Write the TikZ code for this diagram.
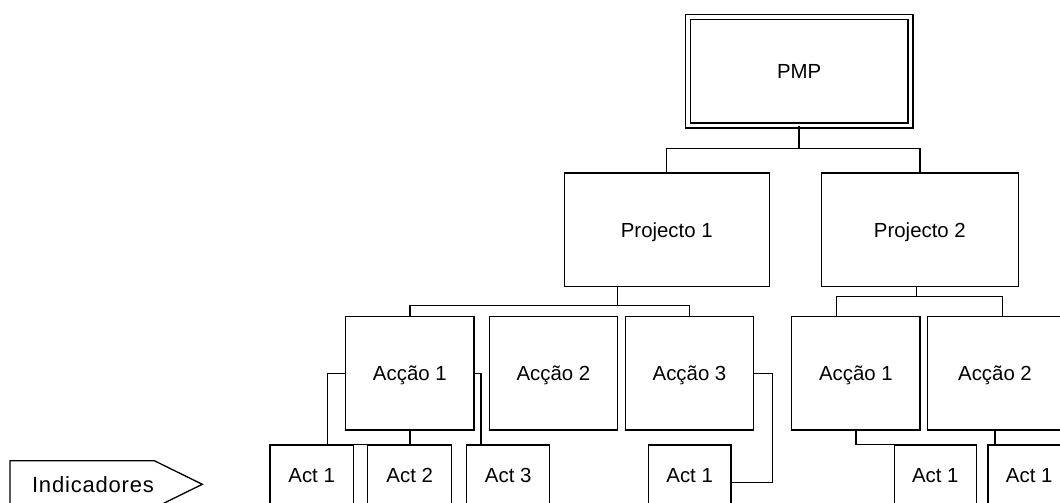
\documentclass[tikz,border=0pt]{standalone}
\usepackage{fontspec}
\setmainfont{Liberation Sans}
\newfontfamily\indfont{Liberation Sans}[LetterSpace=3.7]
\begin{document}
\begin{tikzpicture}[x=1pt,y=-1pt,line width=1.3pt,
    box/.style={draw,rectangle,inner sep=0pt,text height=14.7pt,text depth=0pt,
        font=\fontsize{20.4}{24}\selectfont},
    pmpbox/.style={box,double,double distance=3.7pt,minimum width=222.5pt,minimum height=108.8pt},
    projbox/.style={box,minimum width=#1,minimum height=113.7pt},
    accbox/.style={box,minimum width=#1,minimum height=113.3pt},
    actbox/.style={box,minimum width=#1,minimum height=60pt}]
    \useasboundingbox (0,0) rectangle (1060,503);
    \clip (0,0) rectangle (1060,503);

    \node[pmpbox] (pmp) at (799.1,71.2) {PMP};
    \node[projbox=205pt] (p1) at (666.8,229.85) {Projecto 1};
    \node[projbox=197pt] (p2) at (919.9,229.85) {Projecto 2};

    \node[accbox=128.3pt] (a11) at (409.85,373.35) {Acção 1};
    \node[accbox=128.5pt] (a12) at (553.4,373.35) {Acção 2};
    \node[accbox=127.6pt] (a13) at (689.5,373.35) {Acção 3};
    \node[accbox=128.3pt] (a21) at (855.85,373.35) {Acção 1};
    \node[accbox=134.6pt] (a22) at (995,373.35) {Acção 2};

    \node[actbox=83.3pt] (t111) at (311.65,475) {Act 1};
    \node[actbox=84pt] (t112) at (409.7,475) {Act 2};
    \node[actbox=83pt] (t113) at (508.2,475) {Act 3};
    \node[actbox=82.7pt] (t131) at (689.65,475) {Act 1};
    \node[actbox=82pt] (t211) at (935.3,475) {Act 1};
    \node[actbox=82.4pt] (t221) at (1029.2,475) {Act 1};

    % PMP -> projectos
    \draw (pmp.south) -- ++(0,22.3) coordinate (pj);
    \draw (p1.north) |- (pj) -| (p2.north);
    % projecto 1 -> accoes
    \draw ([xshift=-49.1pt]p1.south) -- ++(0,18.3) coordinate (p1j);
    \draw (a11.north) |- (p1j) -| (a13.north);
    % projecto 2 -> accoes
    \draw ([xshift=-3.2pt]p2.south) -- ++(0,9.3) coordinate (p2j);
    \draw ([xshift=-19.2pt]a21.north) |- (p2j) -| ([xshift=7.5pt]a22.north);

    % accoes -> actividades
    \draw (a11.west) -| ([xshift=16pt]t111.north);
    \draw (a11.south) |- ([xshift=-3.3pt]t111.north);
    \draw (a11.east) -| ([xshift=-27.2pt]t113.north);
    \draw (a13.east) -- ++(18.4,0) |- ([yshift=-7.3pt]t131.east);
    \draw (a21.south) |- ([xshift=-15.3pt]t211.north);
    \draw (a22.south) -- (a22.south |- t221.north);

    % indicadores
    \draw (10,460.7) -- (154.3,460.7) -- (202.3,484.3) -- (154.3,507.9) -- (10,507.9) -- cycle;
    \node[inner sep=0pt,text height=15.8pt,text depth=0pt,font=\indfont\fontsize{22}{26}\selectfont]
        (ind) at (93,484.6) {Indicadores};
\end{tikzpicture}
\end{document}
